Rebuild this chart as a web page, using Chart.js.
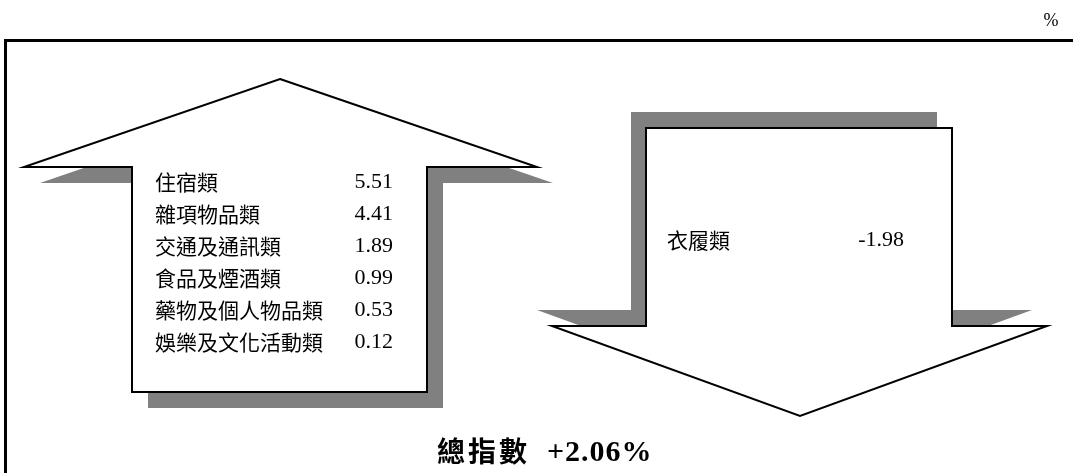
<!DOCTYPE html>
<html lang="zh-Hant">
<head>
<meta charset="utf-8">
<title>總指數 +2.06%</title>
<script src="https://cdn.jsdelivr.net/npm/chart.js@4/dist/chart.umd.min.js"></script>
<style>
  html, body { margin: 0; padding: 0; background: #fff; }
  #wrap { width: 1073px; height: 473px; }
</style>
</head>
<body>
<div id="wrap"><canvas id="cpiChart" width="1073" height="473"></canvas></div>
<script>
// Categories that rose (up arrow) and fell (down arrow), in %.
const upCategories = ['住宿類', '雜項物品類', '交通及通訊類', '食品及煙酒類', '藥物及個人物品類', '娛樂及文化活動類'];
const upValues = [5.51, 4.41, 1.89, 0.99, 0.53, 0.12];
const downCategories = ['衣履類'];
const downValues = [-1.98];
const totalLabel = '總指數';
const totalValue = 2.06;
const unitLabel = '%';

const CJK = '"Noto Sans CJK TC", "Noto Sans CJK SC", sans-serif';
const SERIF = '"Liberation Serif", "DejaVu Serif", serif';
const SHADOW = '#808080';

// Arrow outlines in page units (the scales map them to pixels).
const upArrow = {
  apex: [280, 79], headY: 167, tips: [24, 537], shaft: [132, 427], bottom: 392, shadow: [16, 16]
};
const downArrow = {
  apex: [800, 416], headY: 326, tips: [552, 1047], shaft: [646, 952], top: 128, shadow: [-15, -16]
};

const upPath = (a, dx, dy) => [
  [a.apex[0] + dx, a.apex[1] + dy],
  [a.tips[1] + dx, a.headY + dy],
  [a.shaft[1] + dx, a.headY + dy],
  [a.shaft[1] + dx, a.bottom + dy],
  [a.shaft[0] + dx, a.bottom + dy],
  [a.shaft[0] + dx, a.headY + dy],
  [a.tips[0] + dx, a.headY + dy]
];

const downPath = (a, dx, dy) => [
  [a.shaft[0] + dx, a.top + dy],
  [a.shaft[1] + dx, a.top + dy],
  [a.shaft[1] + dx, a.headY + dy],
  [a.tips[1] + dx, a.headY + dy],
  [a.apex[0] + dx, a.apex[1] + dy],
  [a.tips[0] + dx, a.headY + dy],
  [a.shaft[0] + dx, a.headY + dy]
];

const infographic = {
  id: 'infographic',
  afterDraw(chart) {
    const { ctx } = chart;
    const xs = chart.scales.x;
    const ys = chart.scales.y;
    const px = (v) => xs.getPixelForValue(v);
    const py = (v) => ys.getPixelForValue(v);

    const poly = (pts, fill, stroke) => {
      ctx.beginPath();
      pts.forEach(([x, y], i) => (i ? ctx.lineTo(px(x), py(y)) : ctx.moveTo(px(x), py(y))));
      ctx.closePath();
      ctx.fillStyle = fill;
      ctx.fill();
      if (stroke) {
        ctx.lineWidth = 2;
        ctx.lineJoin = 'miter';
        ctx.strokeStyle = stroke;
        ctx.stroke();
      }
    };

    ctx.save();

    // Frame: top rule and left rule.
    ctx.fillStyle = '#000';
    ctx.fillRect(px(4), py(39), px(1073) - px(4), 3);
    ctx.fillRect(px(4), py(39), 3, py(473) - py(39));

    // Unit.
    ctx.font = '18px ' + SERIF;
    ctx.textAlign = 'center';
    ctx.textBaseline = 'middle';
    ctx.fillText(unitLabel, px(1051), py(21));

    // Arrows with their drop shadows.
    poly(upPath(upArrow, upArrow.shadow[0], upArrow.shadow[1]), SHADOW);
    poly(upPath(upArrow, 0, 0), '#fff', '#000');
    poly(downPath(downArrow, downArrow.shadow[0], downArrow.shadow[1]), SHADOW);
    poly(downPath(downArrow, 0, 0), '#fff', '#000');

    // Rising categories.
    ctx.fillStyle = '#000';
    upCategories.forEach((name, i) => {
      const y = py(182 + i * 32);
      ctx.font = '21px ' + CJK;
      ctx.textAlign = 'left';
      ctx.fillText(name, px(155), y);
      ctx.font = '22px ' + SERIF;
      ctx.textAlign = 'right';
      ctx.fillText(upValues[i].toFixed(2), px(393), y);
    });

    // Falling categories.
    downCategories.forEach((name, i) => {
      const y = py(240 + i * 32);
      ctx.font = '21px ' + CJK;
      ctx.textAlign = 'left';
      ctx.fillText(name, px(667), y);
      ctx.font = '22px ' + SERIF;
      ctx.textAlign = 'right';
      ctx.fillText(downValues[i].toFixed(2), px(904), y);
    });

    // Overall index.
    const totalText = (totalValue >= 0 ? '+' : '') + totalValue.toFixed(2) + '%';
    ctx.textAlign = 'left';
    ctx.font = 'bold 28px ' + CJK;
    ctx.letterSpacing = '3px';
    ctx.fillText(totalLabel, px(437), py(451));
    ctx.font = 'bold 30px ' + SERIF;
    ctx.letterSpacing = '1px';
    ctx.fillText(totalText, px(547), py(453));
    ctx.letterSpacing = '0px';

    ctx.restore();
  }
};

new Chart(document.getElementById('cpiChart'), {
  type: 'scatter',
  data: { datasets: [{ data: [] }] },
  options: {
    responsive: false,
    animation: false,
    devicePixelRatio: 1,
    layout: { padding: 0 },
    plugins: { legend: { display: false }, tooltip: { enabled: false } },
    scales: {
      x: { type: 'linear', min: 0, max: 1073, display: false },
      y: { type: 'linear', min: 0, max: 473, reverse: true, display: false }
    }
  },
  plugins: [infographic]
});
</script>
</body>
</html>
